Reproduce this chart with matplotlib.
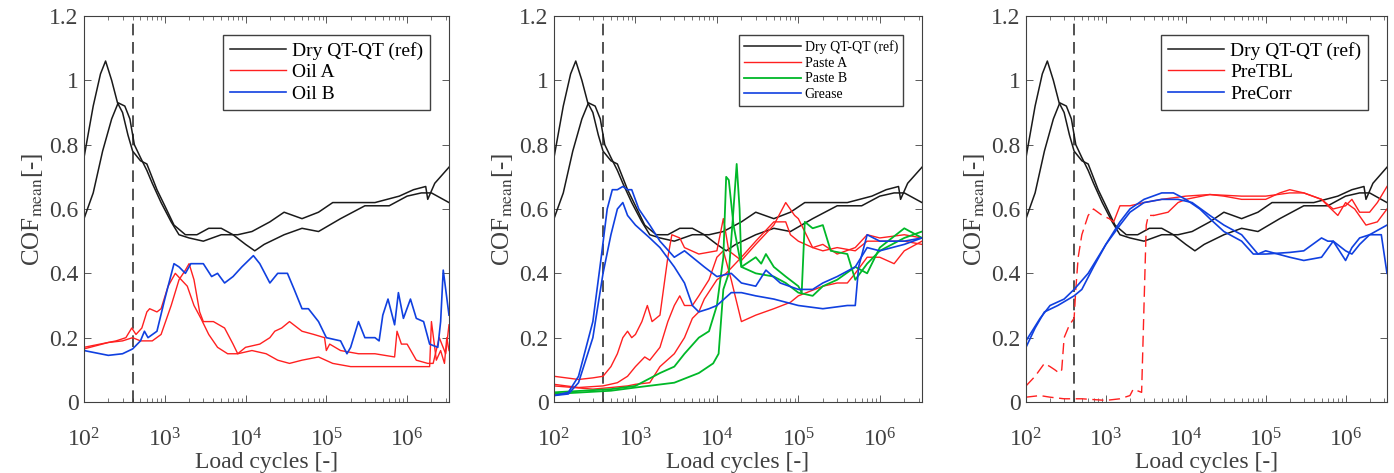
import numpy as np
import matplotlib.pyplot as plt
from matplotlib.ticker import LogLocator, FixedLocator

plt.rcParams['font.family'] = ['Liberation Serif', 'DejaVu Serif']
plt.rcParams['mathtext.fontset'] = 'stix'

# Dry reference (same in all three panels)
dry1_x = [100, 130, 170, 220, 265, 320, 370, 420, 500, 600, 700, 900, 1200, 1500, 2000, 3000, 5000, 8000,
          1.2e4, 2e4, 3e4, 5e4, 8e4, 1.2e5, 2e5, 4e5, 8e5, 1.2e6, 1.7e6, 1.8e6, 2.2e6, 3.3e6]
dry1_y = [0.57, 0.65, 0.78, 0.88, 0.93, 0.92, 0.88, 0.80, 0.76, 0.72, 0.68, 0.62, 0.56, 0.52, 0.51, 0.50, 0.52, 0.52,
          0.53, 0.56, 0.59, 0.57, 0.59, 0.62, 0.62, 0.62, 0.64, 0.66, 0.67, 0.63, 0.68, 0.73]
dry2_x = [100, 130, 160, 185, 220, 260, 300, 350, 400, 500, 600, 800, 1000, 1300, 1800, 2500, 3500, 5000, 7000,
          1e4, 1.3e4, 1.7e4, 3e4, 5e4, 8e4, 1.5e5, 3e5, 6e5, 1e6, 1.5e6, 2e6, 3.3e6]
dry2_y = [0.76, 0.92, 1.02, 1.06, 1.00, 0.93, 0.90, 0.83, 0.78, 0.75, 0.74, 0.66, 0.61, 0.55, 0.52, 0.52, 0.54, 0.54, 0.52,
          0.49, 0.47, 0.49, 0.52, 0.54, 0.53, 0.57, 0.61, 0.61, 0.64, 0.65, 0.65, 0.62]

# Panel 1: Oil A (red, 2 runs), Oil B (blue)
oilA1_x = [100, 250, 330, 390, 440, 520, 600, 650, 800, 900, 1100, 1350, 1600, 1900, 2300, 2800, 3500, 4500, 6000,
           8000, 1.2e4, 1.8e4, 2.5e4, 3.5e4, 5e4, 8e4, 1.2e5, 2e5, 5e5, 1e6, 1.9e6, 2e6, 2.3e6, 2.6e6, 2.9e6, 3.1e6, 3.3e6]
oilA1_y = [0.17, 0.19, 0.20, 0.23, 0.21, 0.23, 0.28, 0.29, 0.28, 0.29, 0.36, 0.40, 0.38, 0.36, 0.30, 0.26, 0.21, 0.17, 0.15,
           0.15, 0.16, 0.15, 0.13, 0.12, 0.13, 0.14, 0.12, 0.11, 0.11, 0.11, 0.11, 0.25, 0.13, 0.16, 0.12, 0.20, 0.16]
oilA2_x = [100, 200, 300, 400, 500, 700, 900, 1200, 1500, 1800, 2000, 2300, 2700, 3000, 4000, 5500, 7000, 8000,
           1e4, 1.5e4, 2e4, 2.3e4, 2.8e4, 3.5e4, 5e4, 7e4, 9.5e4, 1.0e5, 1.1e5, 1.5e5, 2.5e5, 4e5, 7e5, 7.5e5, 8.5e5,
           1e6, 1.3e6, 1.8e6, 2.1e6, 2.5e6, 3e6, 3.3e6]
oilA2_y = [0.165, 0.185, 0.19, 0.20, 0.19, 0.19, 0.21, 0.30, 0.38, 0.41, 0.43, 0.38, 0.28, 0.25, 0.25, 0.23, 0.18, 0.15,
           0.17, 0.18, 0.20, 0.22, 0.23, 0.25, 0.22, 0.21, 0.20, 0.16, 0.18, 0.16, 0.15, 0.15, 0.14, 0.22, 0.18,
           0.18, 0.13, 0.12, 0.12, 0.20, 0.15, 0.24]
oilB_x = [100, 200, 300, 400, 500, 560, 620, 800, 1000, 1300, 1500, 1800, 2100, 3000, 3800, 4500, 5500, 7000, 9000,
          1.25e4, 1.5e4, 2e4, 2.5e4, 3.3e4, 4e4, 5e4, 6e4, 8e4, 1e5, 1.5e5, 1.8e5, 2e5, 2.5e5, 3e5, 4e5, 4.5e5,
          5e5, 5.8e5, 7e5, 7.8e5, 9e5, 1.1e6, 1.3e6, 1.6e6, 1.9e6, 2.4e6, 2.6e6, 2.8e6, 3.3e6]
oilB_y = [0.16, 0.145, 0.15, 0.165, 0.19, 0.22, 0.20, 0.22, 0.32, 0.43, 0.42, 0.40, 0.43, 0.43, 0.39, 0.40, 0.37, 0.39, 0.42,
          0.455, 0.43, 0.37, 0.40, 0.40, 0.35, 0.29, 0.29, 0.25, 0.20, 0.19, 0.15, 0.17, 0.25, 0.20, 0.20, 0.19,
          0.27, 0.32, 0.24, 0.34, 0.26, 0.32, 0.26, 0.25, 0.18, 0.17, 0.25, 0.41, 0.27]

# Panel 2: Paste A (red, 3 runs), Paste B (green, 2 runs), Grease (blue, 2 runs)
pasteA1_x = [100, 200, 300, 400, 500, 600, 700, 800, 900, 1000, 1200, 1400, 1600, 2000, 2500, 2800, 3500, 4000, 6000,
             1e4, 1.2e4, 1.4e4, 2e4, 3e4, 5e4, 7e4, 9e4, 1e5, 1.5e5, 2e5, 3e5, 5e5, 7e5, 1e6, 2e6, 3.3e6]
pasteA1_y = [0.08, 0.07, 0.075, 0.08, 0.11, 0.15, 0.20, 0.22, 0.20, 0.21, 0.25, 0.30, 0.25, 0.27, 0.45, 0.52, 0.51, 0.48, 0.46,
             0.47, 0.57, 0.47, 0.44, 0.49, 0.55, 0.62, 0.58, 0.57, 0.48, 0.49, 0.46, 0.48, 0.52, 0.51, 0.52, 0.51]
pasteA2_x = [100, 200, 400, 600, 800, 1000, 1300, 1500, 2000, 2500, 3000, 3500, 4000, 5000, 6000, 8000, 1e4, 1.2e4,
             1.5e4, 2e4, 3e4, 5e4, 8e4, 1e5, 2e5, 3e5, 4e5, 5e5, 7e5, 1e6, 1.5e6, 2e6, 3.3e6]
pasteA2_y = [0.055, 0.045, 0.05, 0.06, 0.08, 0.11, 0.14, 0.13, 0.17, 0.25, 0.30, 0.33, 0.30, 0.30, 0.33, 0.38, 0.45, 0.47,
             0.38, 0.25, 0.27, 0.29, 0.31, 0.33, 0.36, 0.37, 0.37, 0.40, 0.45, 0.45, 0.43, 0.47, 0.50]
pasteA3_x = [100, 300, 500, 800, 1000, 1500, 2000, 3000, 4000, 5000, 6000, 7000, 1e4, 1.3e4, 2e4, 3e4, 5e4, 7e4, 8e4,
             1e5, 1.5e5, 2e5, 3e5, 5e5, 7e5, 1e6, 2e6, 3.3e6]
pasteA3_y = [0.05, 0.04, 0.045, 0.05, 0.055, 0.06, 0.11, 0.15, 0.20, 0.26, 0.28, 0.32, 0.38, 0.40, 0.45, 0.50, 0.56, 0.56, 0.52,
             0.50, 0.48, 0.47, 0.48, 0.47, 0.50, 0.50, 0.50, 0.49]
pasteB1_x = [100, 500, 1000, 2000, 3000, 4000, 6000, 8000, 1e4, 1.2e4, 1.3e4, 1.4e4, 1.6e4, 2e4, 3e4, 3.5e4, 4e4, 5e4,
             7e4, 1e5, 1.1e5, 1.2e5, 1.5e5, 2e5, 2.5e5, 4e5, 5e5, 7e5, 1e6, 2e6, 3.3e6]
pasteB1_y = [0.03, 0.04, 0.05, 0.09, 0.11, 0.15, 0.20, 0.22, 0.30, 0.45, 0.70, 0.69, 0.55, 0.42, 0.45, 0.43, 0.46, 0.42,
             0.39, 0.36, 0.34, 0.56, 0.54, 0.55, 0.47, 0.46, 0.38, 0.43, 0.47, 0.51, 0.53]
pasteB2_x = [100, 500, 1000, 3000, 6000, 9000, 1.05e4, 1.2e4, 1.4e4, 1.6e4, 1.75e4, 1.9e4, 2e4, 3e4, 5e4, 7e4, 1e5,
             1.5e5, 2e5, 3e5, 5e5, 7e5, 1e6, 2e6, 3.3e6]
pasteB2_y = [0.025, 0.035, 0.045, 0.06, 0.09, 0.12, 0.15, 0.35, 0.40, 0.60, 0.74, 0.60, 0.42, 0.40, 0.39, 0.37, 0.34,
             0.33, 0.36, 0.38, 0.42, 0.40, 0.48, 0.54, 0.51]
grease1_x = [100, 150, 200, 300, 380, 450, 520, 600, 700, 800, 900, 1100, 1500, 2000, 3000, 4000, 5000, 7000, 1e4,
             1.5e4, 2e4, 3e4, 4e4, 6e4, 1e5, 1.5e5, 2e5, 3e5, 5e5, 7e5, 1e6, 2e6, 3.3e6]
grease1_y = [0.02, 0.03, 0.08, 0.25, 0.45, 0.60, 0.66, 0.66, 0.67, 0.66, 0.66, 0.60, 0.55, 0.50, 0.45, 0.47, 0.45, 0.42, 0.39,
             0.40, 0.37, 0.36, 0.41, 0.37, 0.35, 0.35, 0.37, 0.39, 0.42, 0.48, 0.47, 0.49, 0.51]
grease2_x = [100, 150, 200, 300, 400, 500, 600, 700, 800, 1000, 1500, 2000, 3000, 4000, 5000, 6000, 8000, 1e4, 1.5e4,
             2e4, 3e4, 5e4, 1e5, 2e5, 4e5, 5e5, 5.5e5, 7e5, 1e6, 2e6, 3.3e6]
grease2_y = [0.02, 0.025, 0.06, 0.20, 0.40, 0.52, 0.60, 0.62, 0.58, 0.55, 0.51, 0.48, 0.42, 0.37, 0.30, 0.28, 0.29, 0.30, 0.34,
             0.34, 0.33, 0.32, 0.30, 0.29, 0.30, 0.30, 0.42, 0.52, 0.50, 0.50, 0.51]

# Panel 3: PreTBL (red, running-in dashed then solid), PreCorr (blue, 2 runs)
tblrun1_x = [100, 130, 170, 200, 230, 260, 280, 300, 350, 400, 420, 450, 500, 600, 700, 900, 1100, 1250]
tblrun1_y = [0.05, 0.08, 0.12, 0.11, 0.10, 0.09, 0.10, 0.20, 0.24, 0.26, 0.35, 0.45, 0.52, 0.58, 0.60, 0.58, 0.57, 0.56]
tblrun2_x = [100, 150, 200, 300, 500, 1000, 1500, 2000, 2200, 2800, 3000, 3200, 3400, 4000]
tblrun2_y = [0.015, 0.02, 0.015, 0.01, 0.01, 0.005, 0.01, 0.02, 0.04, 0.03, 0.30, 0.55, 0.58, 0.58]
tbl1_x = [1250, 1500, 2000, 3000, 5000, 1e4, 2e4, 5e4, 1e5, 2e5, 3e5, 5e5, 6e5, 8e5, 1e6, 1.3e6, 1.8e6, 2.5e6, 3.3e6]
tbl1_y = [0.56, 0.61, 0.61, 0.62, 0.63, 0.64, 0.645, 0.64, 0.64, 0.65, 0.65, 0.63, 0.61, 0.58, 0.62, 0.60, 0.55, 0.56, 0.60]
tbl2_x = [4000, 6000, 8000, 1e4, 2e4, 3e4, 5e4, 1e5, 1.5e5, 2e5, 3e5, 5e5, 7e5, 1e6, 1.2e6, 1.5e6, 2e6, 2.5e6, 3.3e6]
tbl2_y = [0.58, 0.59, 0.62, 0.63, 0.645, 0.64, 0.63, 0.63, 0.65, 0.66, 0.65, 0.63, 0.60, 0.61, 0.63, 0.59, 0.59, 0.62, 0.67]
corr1_x = [100, 130, 170, 250, 400, 500, 700, 1000, 1500, 2000, 3000, 5000, 7000, 1e4, 1.5e4, 2e4, 3e4, 5e4, 7e4,
           1e5, 2e5, 3e5, 5e5, 6e5, 7e5, 1e6, 1.2e6, 1.5e6, 2e6, 2.8e6, 3.3e6]
corr1_y = [0.17, 0.23, 0.28, 0.30, 0.33, 0.35, 0.42, 0.49, 0.56, 0.60, 0.63, 0.65, 0.65, 0.63, 0.60, 0.57, 0.53, 0.50, 0.46,
           0.46, 0.465, 0.47, 0.51, 0.50, 0.50, 0.44, 0.48, 0.51, 0.52, 0.52, 0.40]
corr2_x = [100, 150, 200, 300, 400, 600, 1000, 1500, 2000, 3000, 5000, 8000, 1.2e4, 2e4, 3e4, 5e4, 8e4, 1e5, 2e5,
           3e5, 5e5, 7e5, 1e6, 1.2e6, 1.5e6, 2e6, 3.3e6]
corr2_y = [0.19, 0.26, 0.30, 0.32, 0.35, 0.40, 0.49, 0.55, 0.59, 0.62, 0.63, 0.63, 0.62, 0.58, 0.55, 0.52, 0.46, 0.47, 0.45,
           0.44, 0.45, 0.50, 0.47, 0.46, 0.49, 0.52, 0.55]

run_in = 400
black, red, green, blue = '#1a1a1a', '#ff2020', '#00b828', '#1040e0'
grey = '#404040'

fig = plt.figure(figsize=(13.94, 4.73), dpi=100)
W, H = 1394, 473
top, bot = 16, 402
boxes = [(84, 449), (554, 922), (1026, 1387)]
axes = [fig.add_axes([l / W, 1 - bot / H, (r - l) / W, (bot - top) / H]) for l, r in boxes]


def setup(ax):
    ax.set_xscale('log')
    ax.set_xlim(100, 3.3e6)
    ax.set_ylim(0, 1.2)
    ax.yaxis.set_major_locator(FixedLocator([0, 0.2, 0.4, 0.6, 0.8, 1.0, 1.2]))
    ax.set_yticklabels(['0', '0.2', '0.4', '0.6', '0.8', '1', '1.2'])
    ax.xaxis.set_major_locator(LogLocator(base=10, numticks=10))
    ax.xaxis.set_minor_locator(LogLocator(base=10, subs=np.arange(2, 10), numticks=20))
    ax.tick_params(which='both', direction='in', top=True, right=True, colors=grey,
                   labelsize=17, labelcolor=grey)
    ax.tick_params(which='major', length=5, width=0.6)
    ax.tick_params(which='minor', length=3, width=0.5)
    ax.tick_params(axis='x', pad=19)
    ax.tick_params(axis='y', pad=4)
    for s in ax.spines.values():
        s.set_color(grey)
        s.set_linewidth(0.8)
    ax.axvline(run_in, color='#333333', ls=(0, (7, 4)), lw=1.2)
    ax.set_xlabel('Load cycles [-]', fontsize=17, color=grey, labelpad=0)
    ax.set_ylabel(r'COF$_{\mathrm{mean}}$[-]', fontsize=18, color=grey, labelpad=3)


def legend(ax, size, hlen):
    w = ax.get_position().width * W
    h = ax.get_position().height * H
    ax.legend(loc='upper right', bbox_to_anchor=(1 - 19 / w, 1 - 19 / h), borderaxespad=0,
              fontsize=size, frameon=True, fancybox=False, edgecolor=grey, framealpha=1,
              handlelength=hlen, borderpad=0.35, labelspacing=0.2, handletextpad=0.3)


for ax in axes:
    setup(ax)
    ax.plot(dry1_x, dry1_y, color=black, lw=1.1, label='Dry QT-QT (ref)')
    ax.plot(dry2_x, dry2_y, color=black, lw=1.1)

ax = axes[0]
ax.plot(oilA1_x, oilA1_y, color=red, lw=1.0, label='Oil A')
ax.plot(oilA2_x, oilA2_y, color=red, lw=1.0)
ax.plot(oilB_x, oilB_y, color=blue, lw=1.2, label='Oil B')
legend(ax, 14, 2.9)

ax = axes[1]
ax.plot(pasteA1_x, pasteA1_y, color=red, lw=1.0, label='Paste A')
ax.plot(pasteA2_x, pasteA2_y, color=red, lw=1.0)
ax.plot(pasteA3_x, pasteA3_y, color=red, lw=1.0)
ax.plot(pasteB1_x, pasteB1_y, color=green, lw=1.3, label='Paste B')
ax.plot(pasteB2_x, pasteB2_y, color=green, lw=1.3)
ax.plot(grease1_x, grease1_y, color=blue, lw=1.2, label='Grease')
ax.plot(grease2_x, grease2_y, color=blue, lw=1.2)
legend(ax, 10, 4.1)

ax = axes[2]
ax.plot(tblrun1_x, tblrun1_y, color=red, lw=1.0, ls=(0, (8, 4)))
ax.plot(tblrun2_x, tblrun2_y, color=red, lw=1.0, ls=(0, (8, 4)))
ax.plot(tbl1_x, tbl1_y, color=red, lw=1.0, label='PreTBL')
ax.plot(tbl2_x, tbl2_y, color=red, lw=1.0)
ax.plot(corr1_x, corr1_y, color=blue, lw=1.2, label='PreCorr')
ax.plot(corr2_x, corr2_y, color=blue, lw=1.2)
legend(ax, 14, 2.9)

fig.savefig('out.png', dpi=100)
